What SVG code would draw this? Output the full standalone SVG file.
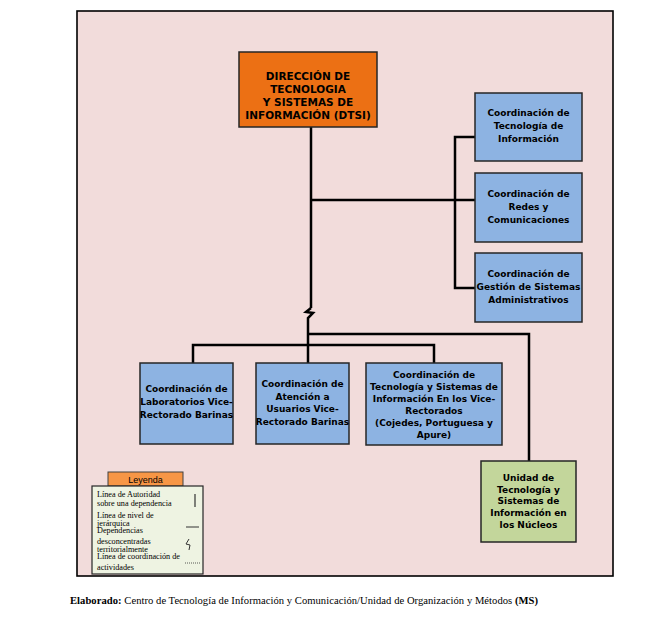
<svg xmlns="http://www.w3.org/2000/svg" width="656" height="622" viewBox="0 0 656 622">
<style>
.box{stroke:#262626;stroke-width:1.5}
.blue{fill:#8db3e2}
.t{font-family:"DejaVu Sans",Verdana,sans-serif;font-weight:bold;font-size:9px;fill:#000;text-anchor:middle}
.tb{font-family:"DejaVu Sans",Verdana,sans-serif;font-weight:bold;font-size:10.5px;fill:#000;text-anchor:middle}
.c{fill:none;stroke:#000;stroke-width:2.5}
.lg{font-family:"Liberation Serif","Times New Roman",serif;font-size:8.2px;fill:#000}
</style>
<rect width="656" height="622" fill="#fff"/>
<rect x="77" y="11" width="536" height="565" fill="#f2dcdb" stroke="#000" stroke-width="1.6"/>
<g id="connectors">
<path class="c" d="M311,127 V308"/>
<path class="c" d="M311,308 L306,312 L313,313 L308,318 V363"/>
<path class="c" d="M311,200 H475"/>
<path class="c" d="M475,137 H455 V288 H475"/>
<path class="c" d="M308,334 H529 V461"/>
<path class="c" d="M193,363 V345 H434 V363"/>
</g>
<g id="dtsi">
<rect class="box" x="239" y="52" width="138" height="75" fill="#ec7014"/>
<text class="tb" x="308" y="80">DIRECCIÓN DE</text>
<text class="tb" x="308" y="93">TECNOLOGIA</text>
<text class="tb" x="308" y="106">Y SISTEMAS DE</text>
<text class="tb" x="308" y="119">INFORMACIÓN (DTSI)</text>
</g>
<g id="coord-ti">
<rect class="box blue" x="475" y="93" width="107" height="68"/>
<text class="t" x="528.5" y="116">Coordinación de</text>
<text class="t" x="528.5" y="129">Tecnología de</text>
<text class="t" x="528.5" y="142">Información</text>
</g>
<g id="coord-redes">
<rect class="box blue" x="475" y="173" width="107" height="69"/>
<text class="t" x="528.5" y="197">Coordinación de</text>
<text class="t" x="528.5" y="210">Redes y</text>
<text class="t" x="528.5" y="223">Comunicaciones</text>
</g>
<g id="coord-gestion">
<rect class="box blue" x="475" y="253" width="107" height="69"/>
<text class="t" x="528.5" y="277">Coordinación de</text>
<text class="t" x="528.5" y="290">Gestión de Sistemas</text>
<text class="t" x="528.5" y="303">Administrativos</text>
</g>
<g id="coord-lab">
<rect class="box blue" x="140" y="363" width="93" height="81"/>
<text class="t" x="186.5" y="392">Coordinación de</text>
<text class="t" x="186.5" y="405">Laboratorios Vice-</text>
<text class="t" x="186.5" y="418">Rectorado Barinas</text>
</g>
<g id="coord-atencion">
<rect class="box blue" x="256" y="363" width="93" height="81"/>
<text class="t" x="302.5" y="387">Coordinación de</text>
<text class="t" x="302.5" y="400">Atención a</text>
<text class="t" x="302.5" y="412">Usuarios Vice-</text>
<text class="t" x="302.5" y="425">Rectorado Barinas</text>
</g>
<g id="coord-vice">
<rect class="box blue" x="366" y="363" width="136" height="82"/>
<text class="t" x="434" y="378">Coordinación de</text>
<text class="t" x="434" y="390">Tecnología y Sistemas de</text>
<text class="t" x="434" y="402">Información En los Vice-</text>
<text class="t" x="434" y="414">Rectorados</text>
<text class="t" x="434" y="426">(Cojedes, Portuguesa y</text>
<text class="t" x="434" y="438">Apure)</text>
</g>
<g id="unidad">
<rect class="box" x="481" y="461" width="95" height="81" fill="#c3d69b"/>
<text class="t" x="528.5" y="481">Unidad de</text>
<text class="t" x="528.5" y="493">Tecnología y</text>
<text class="t" x="528.5" y="504">Sistemas de</text>
<text class="t" x="528.5" y="516">Información en</text>
<text class="t" x="528.5" y="528">los Núcleos</text>
</g>
<g id="legend">
<rect x="108" y="472" width="75" height="14" fill="#f79646" stroke="#404040" stroke-width="1"/>
<text x="145.5" y="483" font-family="Liberation Sans,Arial,sans-serif" font-size="9" text-anchor="middle">Leyenda</text>
<rect x="92" y="486" width="111" height="88" fill="#eef3e2" stroke="#262626" stroke-width="1.2"/>
<text class="lg" x="97" y="497">Línea de Autoridad</text>
<text class="lg" x="97" y="506">sobre una dependencia</text>
<text class="lg" x="97" y="518">Línea de nivel de</text>
<text class="lg" x="97" y="526">jerárquica</text>
<text class="lg" x="97" y="533">Dependencias</text>
<text class="lg" x="97" y="544">desconcentradas</text>
<text class="lg" x="97" y="552">territorialmente</text>
<text class="lg" x="97" y="559">Línea de coordinación de</text>
<text class="lg" x="97" y="570">actividades</text>
<path d="M195,494 V507" stroke="#333" stroke-width="1.2"/>
<path d="M186,527 H199" stroke="#333" stroke-width="1"/>
<path d="M189,539 L186,544 L190,545 L189,550" fill="none" stroke="#333" stroke-width="1"/>
<path d="M185,563 H201" stroke="#333" stroke-width="0.8" stroke-dasharray="1,1"/>
</g>
<text x="70" y="604" font-family="Liberation Serif,'Times New Roman',serif" font-size="10.6" fill="#000" textLength="468" lengthAdjust="spacing"><tspan font-weight="bold">Elaborado:</tspan> Centro de Tecnología de Información y Comunicación/Unidad de Organización y Métodos <tspan font-weight="bold">(MS)</tspan></text>
</svg>
